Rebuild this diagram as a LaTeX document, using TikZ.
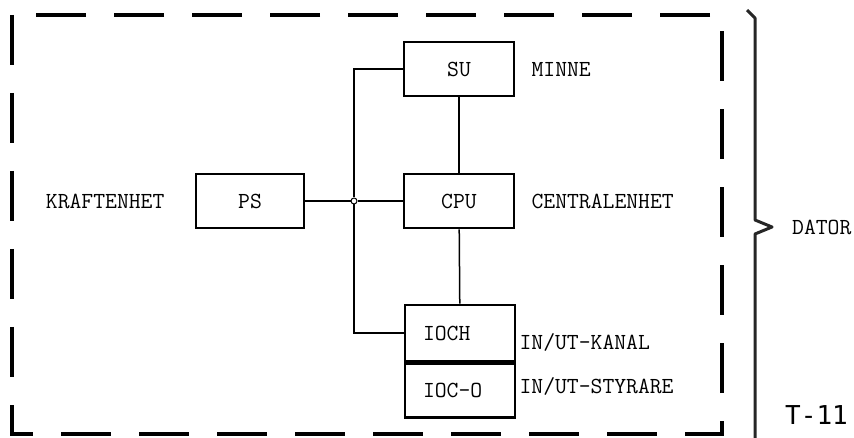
\documentclass[tikz,border=0pt]{standalone}
\usepackage{fontspec}
\newfontfamily\pagefont{DejaVu Sans Mono}
\usepackage{tikz}
\usetikzlibrary{positioning,calc}

\begin{document}
\begin{tikzpicture}[
    x=1pt, y=-1pt,
    unit/.style={rectangle, draw, line width=2.8pt, minimum width=110pt, minimum height=54pt, font=\ttfamily\fontsize{23}{27}\selectfont},
    iobox/.style={unit, inner xsep=18pt, text width=74pt, align=left},
    tag/.style={inner sep=0pt, font=\ttfamily\fontsize{23}{27}\selectfont},
    wire/.style={line width=1.5pt},
    frame/.style={line width=3.2pt, dash pattern=on 50pt off 28pt}
]
  \useasboundingbox (0,0) rectangle (854,438);

  % computer boundary and brace
  \draw[frame] (12,15) rectangle (722,434);
  \coordinate (tip) at (772,227);
  \draw[line width=3pt, black!85, line join=round] (747,10) -- (755,18) -- (755,220) -- (tip) -- (755,234) -- (755,440);
  \node[tag, right=20pt of tip] (dator) {DATOR};

  % units
  \node[unit] (su) at (459,69) {SU};
  \node[unit] (cpu) at (459,201) {CPU};
  \node[unit, minimum width=108pt] (ps) at (250,201) {PS};
  \node[iobox, minimum height=56pt] (ioch) at (460,333) {IOCH};
  \node[iobox, below=0pt of ioch] (ioco) {IOC-O};
  \node[circle, draw, fill=white, line width=1pt, inner sep=0pt, minimum size=6pt] (jn) at (354,201) {};

  % labels
  \node[tag, right=16pt of su] (minne) {MINNE};
  \node[tag, right=16pt of cpu] (central) {CENTRALENHET};
  \node[tag, left=30pt of ps] (kraft) {KRAFTENHET};
  \node[tag, anchor=west] (kanal) at ([xshift=3pt, yshift=-9pt]ioch.east) {IN/UT-KANAL};
  \node[tag, anchor=west] (styr) at ([xshift=3pt, yshift=4pt]ioco.east) {IN/UT-STYRARE};
  \node[inner sep=0pt, anchor=west, font=\pagefont\fontsize{26}{30}\selectfont] (tnum) at (785,415) {T-11};

  % bus
  \draw[wire] (ps.east) -- (jn) -- (cpu.west);
  \draw[wire] (su.west) -| (jn);
  \draw[wire] (jn) |- (ioch.west);
  \draw[wire] (su) -- (cpu);
  \draw[wire] (cpu) -- (ioch);
\end{tikzpicture}
\end{document}
